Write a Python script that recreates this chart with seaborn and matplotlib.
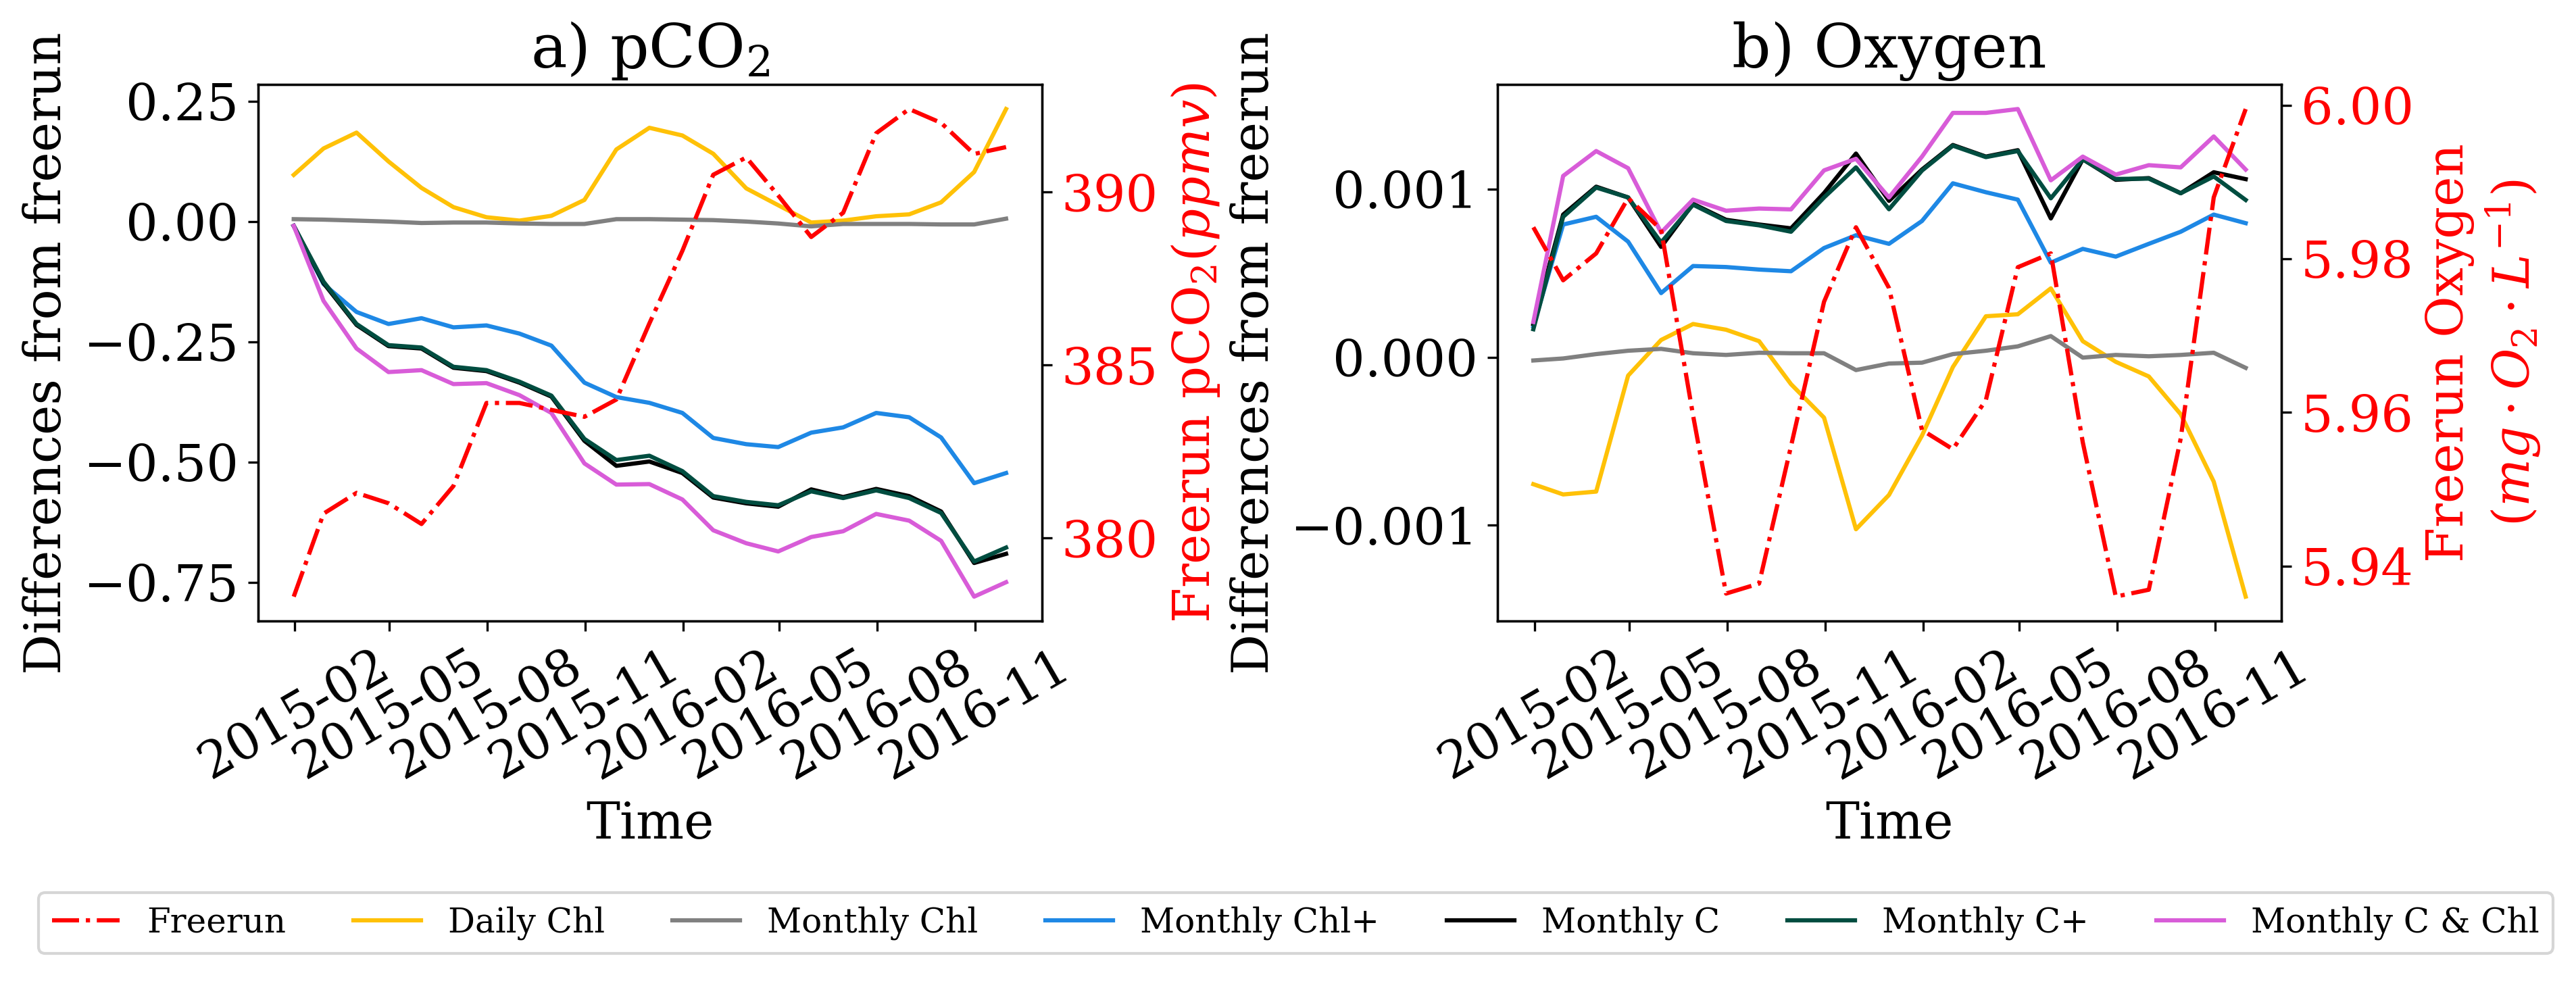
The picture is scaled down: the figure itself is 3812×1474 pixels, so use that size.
import pandas as pd
import matplotlib
matplotlib.use("Agg")
import matplotlib.pyplot as plt
import matplotlib.dates as mdates
from matplotlib.ticker import MultipleLocator
import seaborn as sns

plt.rcParams['font.family'] = 'serif'
plt.rcParams['font.serif'] = ['DejaVu Serif']
plt.rcParams['mathtext.fontset'] = 'dejavuserif'
plt.rcParams['font.size'] = 18

# monthly (month-end) dates
dates = pd.date_range('2015-01-31', periods=23, freq='ME')

labels = ["Daily Chl", "Monthly Chl", "Monthly Chl+", "Monthly C", "Monthly C+", "Monthly C & Chl"]
colors = ["#FFC107", "#808080", "#1E88E5", "#000000", "#004D40", "#D85CD8"]

# a) pCO2
freerun_pco2 = [378.3, 380.7, 381.3, 381.0, 380.4, 381.5, 383.9, 383.9, 383.7, 383.5, 384.0, 386.2,
                388.3, 390.5, 391.0, 389.9, 388.7, 389.4, 391.7, 392.4, 392.0, 391.1, 391.3]
daily_chl_pco2 = [0.097, 0.152, 0.185, 0.125, 0.070, 0.030, 0.009, 0.002, 0.012, 0.045, 0.150, 0.195,
                  0.179, 0.141, 0.069, 0.034, -0.002, 0.002, 0.011, 0.015, 0.040, 0.103, 0.234]
monthly_chl_pco2 = [0.005, 0.004, 0.002, 0.000, -0.003, -0.002, -0.002, -0.004, -0.005, -0.005, 0.005, 0.005,
                    0.004, 0.003, 0.000, -0.004, -0.010, -0.005, -0.005, -0.005, -0.006, -0.006, 0.006]
monthly_chlp_pco2 = [-0.009, -0.130, -0.188, -0.213, -0.201, -0.220, -0.216, -0.233, -0.258, -0.335, -0.365, -0.377,
                     -0.398, -0.450, -0.463, -0.469, -0.439, -0.428, -0.398, -0.407, -0.449, -0.544, -0.523]
monthly_c_pco2 = [-0.009, -0.128, -0.215, -0.259, -0.264, -0.304, -0.311, -0.335, -0.364, -0.456, -0.508, -0.499,
                  -0.523, -0.574, -0.586, -0.593, -0.557, -0.573, -0.556, -0.571, -0.603, -0.710, -0.691]
monthly_cp_pco2 = [-0.009, -0.125, -0.213, -0.257, -0.262, -0.302, -0.309, -0.333, -0.362, -0.452, -0.496, -0.487,
                   -0.519, -0.571, -0.583, -0.590, -0.561, -0.575, -0.559, -0.575, -0.606, -0.707, -0.678]
monthly_c_chl_pco2 = [-0.009, -0.165, -0.264, -0.313, -0.309, -0.338, -0.336, -0.361, -0.398, -0.503, -0.547, -0.546,
                      -0.578, -0.642, -0.669, -0.686, -0.656, -0.644, -0.608, -0.622, -0.664, -0.780, -0.750]

# b) Oxygen (differences in 1e-3 units)
freerun_o2 = [5.9841, 5.9772, 5.9807, 5.9879, 5.9838, 5.9596, 5.9364, 5.9377, 5.9556, 5.9744, 5.9841, 5.9762,
              5.9577, 5.9552, 5.9616, 5.9789, 5.9807, 5.9561, 5.9360, 5.9369, 5.9566, 5.9880, 5.9995]
daily_chl_o2 = [-0.756, -0.817, -0.800, -0.110, 0.102, 0.197, 0.163, 0.095, -0.161, -0.360, -1.024, -0.820,
                -0.467, -0.059, 0.243, 0.255, 0.409, 0.095, -0.028, -0.115, -0.340, -0.741, -1.425]
monthly_chl_o2 = [-0.020, -0.008, 0.018, 0.038, 0.049, 0.023, 0.013, 0.026, 0.023, 0.023, -0.077, -0.038,
                  -0.033, 0.018, 0.038, 0.064, 0.125, -0.003, 0.013, 0.005, 0.013, 0.026, -0.064]
monthly_chlp_o2 = [0.184, 0.789, 0.835, 0.687, 0.381, 0.542, 0.536, 0.521, 0.511, 0.649, 0.725, 0.674,
                   0.810, 1.034, 0.981, 0.937, 0.562, 0.644, 0.598, 0.674, 0.746, 0.848, 0.797]
monthly_c_o2 = [0.197, 0.848, 1.014, 0.950, 0.656, 0.912, 0.817, 0.789, 0.766, 0.976, 1.211, 0.930,
                1.116, 1.262, 1.193, 1.231, 0.825, 1.177, 1.055, 1.065, 0.975, 1.100, 1.059]
monthly_cp_o2 = [0.166, 0.835, 1.009, 0.950, 0.682, 0.907, 0.810, 0.784, 0.746, 0.950, 1.129, 0.880,
                 1.110, 1.258, 1.190, 1.226, 0.945, 1.177, 1.060, 1.062, 0.975, 1.075, 0.935]
monthly_c_chl_o2 = [0.209, 1.078, 1.226, 1.124, 0.741, 0.937, 0.871, 0.884, 0.879, 1.111, 1.180, 0.950,
                    1.193, 1.453, 1.453, 1.476, 1.052, 1.193, 1.086, 1.142, 1.129, 1.313, 1.116]

pco2_series = [daily_chl_pco2, monthly_chl_pco2, monthly_chlp_pco2, monthly_c_pco2, monthly_cp_pco2, monthly_c_chl_pco2]
o2_series = [daily_chl_o2, monthly_chl_o2, monthly_chlp_o2, monthly_c_o2, monthly_cp_o2, monthly_c_chl_o2]

fig, (ax1, ax2) = plt.subplots(1, 2, figsize=(3812/300, 1474/300), dpi=300)
fig.subplots_adjust(left=0.1002, right=0.8856, bottom=0.3765, top=0.915, wspace=0.582)

lw = 1.5


def draw_panel(ax, series, freerun, scale, title, red_label):
    for vals, lab, col in zip(series, labels, colors):
        sns.lineplot(x=dates, y=[v * scale for v in vals], ax=ax, color=col, lw=lw, label=lab, legend=False)
    axr = ax.twinx()
    sns.lineplot(x=dates, y=freerun, ax=axr, color='red', lw=lw, linestyle='-.', label='Freerun', legend=False)
    ax.set_title(title)
    ax.set_xlabel("Time")
    ax.set_ylabel("Differences from freerun")
    axr.set_ylabel(red_label, color='red')
    axr.tick_params(axis='y', labelcolor='red')
    ax.xaxis.set_major_locator(mdates.MonthLocator(bymonth=[2, 5, 8, 11]))
    ax.xaxis.set_major_formatter(mdates.DateFormatter('%Y-%m'))
    plt.setp(ax.get_xticklabels(), rotation=30)
    return axr


axr1 = draw_panel(ax1, pco2_series, freerun_pco2, 1.0, r"a) pCO$_2$", r"Freerun pCO$_2 (ppmv)$")
ax1.yaxis.set_major_locator(MultipleLocator(0.25))
axr1.yaxis.set_major_locator(MultipleLocator(5))

axr2 = draw_panel(ax2, o2_series, freerun_o2, 1e-3, "b) Oxygen",
                  "Freerun Oxygen\n" + r"$(mg \cdot O_2 \cdot L^{-1})$")
ax2.yaxis.set_major_locator(MultipleLocator(0.001))
axr2.yaxis.set_major_locator(MultipleLocator(0.02))

handles = axr1.get_lines()[:1] + ax1.get_lines()[:6]
fig.legend(handles, [h.get_label() for h in handles], loc='lower center', ncol=7,
           bbox_to_anchor=(0.503, 0.026), fontsize=12)

fig.savefig("out.png", dpi=300)
